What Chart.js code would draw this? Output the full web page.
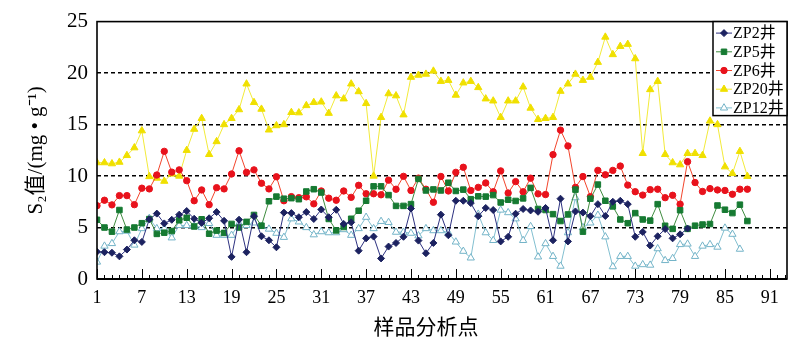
<!DOCTYPE html>
<html><head><meta charset="utf-8">
<script src="https://cdn.jsdelivr.net/npm/chart.js@4/dist/chart.umd.min.js"></script>
<style>html,body{margin:0;padding:0;background:#fff}#wrap{width:800px;height:353px;position:relative}</style>
</head><body><div id="wrap"><canvas id="c" width="800" height="353"></canvas></div>
<script>
const xTickLabels = [1,7,13,19,25,31,37,43,49,55,61,67,73,79,85,91];
const yTickLabels = [0,5,10,15,20,25];
const seriesNames = ['ZP2井','ZP5井','ZP6井','ZP20井','ZP12井'];
const xTitle = '样品分析点';
const yTitle = 'S₂值/(mg • g⁻¹)';

const zp2 = [2.64,2.6,2.55,2.2,2.86,3.76,3.6,5.8,6.35,5.4,5.75,6.25,6.6,5.85,5.45,5.9,6.5,5.65,2.15,5.76,
  2.6,6.1,4.15,3.76,3.08,6.45,6.4,6.0,6.5,5.83,6.75,6.0,6.72,5.35,5.5,2.75,3.95,4.12,2.0,3.15,
  3.5,4.1,6.85,3.73,2.5,3.5,6.25,4.25,7.6,7.6,7.37,6.1,6.9,6.7,3.65,4.1,6.34,6.8,6.66,6.53,
  6.9,3.76,7.8,3.65,6.56,6.45,6.1,7.27,6.12,7.5,7.6,7.27,4.1,4.57,3.25,4.15,4.85,3.95,4.34,4.9];
const zp5 = [5.75,5.0,4.6,6.7,4.8,5.0,5.42,5.82,4.38,4.5,4.66,5.7,5.95,5.1,5.8,4.4,4.7,4.48,5.35,5.0,
  5.55,6.22,5.18,7.55,8.0,7.8,7.85,7.75,8.5,8.72,8.4,5.83,4.72,5.05,5.85,6.63,7.6,9.0,9.0,8.15,
  7.1,7.1,7.27,9.72,8.6,8.7,8.6,9.35,8.55,8.68,7.75,8.03,8.0,8.15,7.43,7.7,7.58,7.83,8.85,6.8,
  6.7,6.3,5.63,6.27,8.68,4.6,7.8,9.17,7.6,7.05,5.78,5.42,6.4,5.78,5.67,7.27,5.17,4.87,6.68,4.87,
  5.18,5.29,5.34,7.14,6.73,6.4,7.22,5.63];
const zp6 = [7.12,7.65,7.2,8.1,8.1,7.22,8.82,8.75,10.1,12.4,10.38,10.6,9.55,7.6,8.65,7.22,8.87,8.75,10.2,12.45,
  10.36,10.6,9.3,8.75,9.93,7.6,8.0,7.9,7.98,7.3,8.55,7.85,7.65,8.55,7.93,9.1,8.28,8.28,8.18,9.6,
  8.72,9.97,8.6,9.8,8.72,7.45,9.96,8.55,10.36,10.85,8.6,8.9,9.33,8.47,10.5,8.35,9.46,8.47,9.79,8.27,
  8.2,12.08,14.46,12.92,8.9,9.95,8.0,10.55,10.12,10.55,10.97,9.12,8.48,8.15,8.68,8.72,7.9,8.13,7.27,11.4,
  9.37,8.5,8.78,8.65,8.6,8.23,8.72,8.72];
const zp20 = [11.3,11.3,11.2,11.35,12.0,12.75,14.4,9.95,9.8,9.5,10.2,10.0,12.5,14.55,15.6,12.1,13.35,15.0,15.6,16.45,
  18.95,17.15,16.5,14.48,14.9,15.0,16.18,16.15,16.85,17.15,17.2,16.1,17.8,17.5,18.95,18.2,17.05,10.0,15.7,18.0,
  17.8,15.95,19.6,19.8,19.9,20.2,19.2,19.3,17.86,19.05,19.2,18.6,17.5,17.3,15.7,17.3,17.3,18.66,16.6,15.5,
  15.6,15.7,18.24,18.95,19.9,19.3,19.6,21.05,23.5,21.8,22.6,22.8,21.4,12.2,18.4,19.2,12.1,11.3,11.1,12.2,
  12.2,12.0,15.35,15.0,10.9,10.25,12.4,9.97];
const zp12 = [1.65,3.2,3.45,4.6,4.65,3.3,4.9,5.9,4.9,4.9,4.0,5.2,5.2,5.15,5.0,5.4,4.25,4.25,4.25,5.4,
  5.2,5.45,5.1,4.85,4.45,4.05,5.85,5.55,5.0,4.3,4.6,4.5,4.5,4.8,4.25,4.9,6.0,4.9,5.6,5.5,
  4.55,4.55,4.45,4.2,4.9,4.7,4.7,4.5,3.6,2.7,2.05,6.3,4.5,3.75,6.7,6.45,5.85,3.75,5.1,2.15,
  3.44,2.2,1.25,4.5,7.9,5.0,5.45,6.2,4.1,1.2,2.2,2.2,1.25,1.4,1.35,2.95,1.8,2.0,3.35,3.4,
  2.2,3.2,3.35,3.1,4.95,4.35,2.9];

const toPts = arr => arr.map((v, i) => ({x: i + 1, y: v}));

const serif = '"Liberation Serif", "DejaVu Serif", serif';
const cjk = '"Liberation Serif", "Noto Sans CJK SC", serif';

const styles = [
  {line:'#2d3180', fill:'#1c2260', stroke:'#1c2260', shape:'rectRot', r:3.5},
  {line:'#3f8c3f', fill:'#167a32', stroke:'#167a32', shape:'rect', r:3.9},
  {line:'#f2452c', fill:'#e8121c', stroke:'#e8121c', shape:'circle', r:3.2},
  {line:'#f2ea3a', fill:'#f0e000', stroke:'#f0e000', shape:'triangle', r:4.2},
  {line:'#82bfd0', fill:'#ffffff', stroke:'#74b4c8', shape:'triangle', r:4.2}
];
const allData = [zp2, zp5, zp6, zp20, zp12];

const datasets = allData.map((arr, k) => ({
  label: seriesNames[k],
  data: toPts(arr),
  borderColor: styles[k].line,
  borderWidth: 1,
  pointStyle: styles[k].shape,
  pointRadius: styles[k].r,
  pointBackgroundColor: styles[k].fill,
  pointBorderColor: styles[k].stroke,
  pointBorderWidth: 1,
  tension: 0,
  fill: false
}));

const framePlugin = {
  id: 'frame',
  afterDraw(chart) {
    const {ctx, chartArea: a, scales} = chart;
    const xs = scales.x;
    ctx.save();
    ctx.strokeStyle = '#000';
    ctx.lineWidth = 1;
    for (let v = 1; v <= 93; v++) {
      const px = Math.round(xs.getPixelForValue(v)) + 0.5;
      const len = xTickLabels.includes(v) ? 10 : 4;
      ctx.beginPath();
      ctx.moveTo(px, a.bottom);
      ctx.lineTo(px, a.bottom - len);
      ctx.stroke();
    }
    ctx.lineWidth = 1.6;
    ctx.strokeRect(a.left, a.top, a.right - a.left, a.bottom - a.top);
    ctx.lineWidth = 2;
    ctx.beginPath();
    ctx.moveTo(a.left, a.bottom);
    ctx.lineTo(a.right, a.bottom);
    ctx.stroke();

    // x-axis title (slightly left of centre, as in the reference)
    ctx.fillStyle = '#000';
    ctx.font = '21px "Noto Sans CJK SC", sans-serif';
    ctx.textAlign = 'center';
    ctx.textBaseline = 'middle';
    ctx.fillText(xTitle, xs.getPixelForValue(45), 326);

    // legend box
    const bw = 74, bh = 94;
    const bx = a.right - bw, by = a.top;
    ctx.fillStyle = '#fff';
    ctx.fillRect(bx, by, bw, bh);
    ctx.lineWidth = 1.5;
    ctx.strokeRect(bx, by, bw, bh);
    ctx.font = '16px ' + cjk;
    ctx.textBaseline = 'middle';
    ctx.textAlign = 'left';
    chart.data.datasets.forEach((ds, k) => {
      const y = by + 11.5 + 18.7 * k;
      ctx.strokeStyle = ds.borderColor;
      ctx.lineWidth = 1;
      ctx.beginPath();
      ctx.moveTo(bx + 3, y);
      ctx.lineTo(bx + 19, y);
      ctx.stroke();
      ctx.fillStyle = ds.pointBackgroundColor;
      ctx.strokeStyle = ds.pointBorderColor;
      Chart.helpers.drawPoint(ctx, {pointStyle: ds.pointStyle, radius: ds.pointRadius, borderWidth: 1, rotation: 0}, bx + 11, y);
      ctx.fillStyle = '#000';
      ctx.fillText(ds.label, bx + 20, y + 1);
    });
    ctx.restore();
  }
};

new Chart(document.getElementById('c'), {
  type: 'line',
  data: {datasets},
  options: {
    responsive: false,
    animation: false,
    devicePixelRatio: 1,
    layout: {padding: {left: 0, top: 19, right: 13, bottom: 0}},
    plugins: {legend: {display: false}, tooltip: {enabled: false}},
    scales: {
      x: {
        type: 'linear',
        min: 1,
        max: 93.3,
        afterBuildTicks: s => { s.ticks = xTickLabels.map(v => ({value: v})); },
        afterFit: s => { s.height = 74; },
        grid: {display: false, drawTicks: false},
        border: {display: false},
        ticks: {autoSkip: false, maxRotation: 0, padding: 8, color: '#000', font: {family: serif, size: 18}},
        title: {display: false}
      },
      y: {
        min: 0,
        max: 25,
        afterBuildTicks: s => { s.ticks = yTickLabels.map(v => ({value: v})); },
        afterFit: s => { s.width = 97; },
        grid: {
          drawTicks: false,
          lineWidth: 1.5,
          color: c => (c.tick && (c.tick.value === 0 || c.tick.value === 25)) ? 'rgba(0,0,0,0)' : '#000'
        },
        border: {display: false, dash: [4, 3]},
        ticks: {padding: 9, color: '#000', font: {family: serif, size: 21}},
        title: {display: true, text: yTitle, color: '#000', font: {family: cjk, size: 21}, padding: {top: 24, bottom: 0}}
      }
    }
  },
  plugins: [framePlugin]
});
</script></body></html>
